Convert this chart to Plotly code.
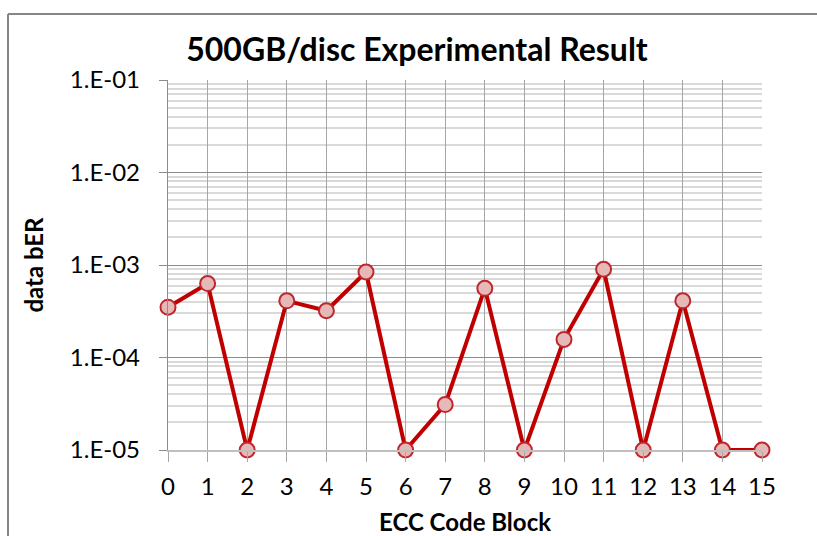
import plotly.graph_objects as go

blocks = list(range(16))
ber = [3.5e-4, 6.3e-4, 1e-5, 4.1e-4, 3.2e-4, 8.4e-4, 1e-5, 3.1e-5,
       5.6e-4, 1e-5, 1.57e-4, 9.0e-4, 1e-5, 4.1e-4, 1e-5, 1e-5]
ytick_vals = [1e-5, 1e-4, 1e-3, 1e-2, 1e-1]
ytick_text = ["1.E-05", "1.E-04", "1.E-03", "1.E-02", "1.E-01"]
minor_vals = [m * 10.0 ** e for e in range(-5, -1) for m in range(2, 10)]

FONT = "Lato"

fig = go.Figure()
fig.add_trace(go.Scatter(
    x=blocks, y=ber, mode="lines+markers",
    line=dict(color="#C00000", width=4),
    marker=dict(size=15, color="#E6B9B8", line=dict(color="#C0272D", width=2)),
    cliponaxis=False,
))

fig.update_layout(
    width=817, height=536,
    margin=dict(l=168, r=55, t=80, b=86),
    paper_bgcolor="white", plot_bgcolor="white",
    showlegend=False,
    font=dict(family=FONT, color="black"),
    title=dict(text="<b>500GB/disc Experimental Result</b>", x=(417 - 168) / 594, xanchor="center",
               xref="paper", y=1 - 50 / 536, yanchor="middle",
               font=dict(size=32, family=FONT)),
    xaxis=dict(
        range=[0, 15], tickmode="array", tickvals=blocks,
        ticktext=[str(b) for b in blocks],
        showgrid=True, gridcolor="#A6A6A6", gridwidth=1.3,
        showline=True, linecolor="#BFBFBF", linewidth=1.5,
        ticks="outside", ticklen=10, tickcolor="#A6A6A6", tickwidth=1.3,
        tickfont=dict(size=24, family=FONT),
        ticklabelstandoff=4,
        zeroline=False, automargin=False,
        title=dict(text="<b>ECC Code Block</b>", font=dict(size=24, family=FONT), standoff=18),
    ),
    yaxis=dict(
        type="log", range=[-5, -1], tickmode="array",
        tickvals=ytick_vals, ticktext=ytick_text,
        showgrid=True, gridcolor="#8C8C8C", gridwidth=1.3,
        showline=True, linecolor="#8C8C8C", linewidth=1.3,
        ticks="outside", ticklen=8, tickcolor="#8C8C8C", tickwidth=1.3,
        tickfont=dict(size=24, family=FONT),
        ticklabelstandoff=14,
        minor=dict(tickmode="array", tickvals=minor_vals, showgrid=True,
                   gridcolor="#D9D9D9", gridwidth=1.5, ticks=""),
        zeroline=False, automargin=False,
        title=dict(text="<b>data bER</b>", font=dict(size=24, family=FONT), standoff=19),
    ),
)

# chart-area border (left and top edges visible)
fig.add_shape(type="line", xref="paper", yref="paper",
              x0=(8 - 168) / 594, x1=(8 - 168) / 594, y0=(450 - 540) / 370, y1=(450 - 14) / 370,
              line=dict(color="#868686", width=2))
fig.add_shape(type="line", xref="paper", yref="paper",
              x0=(8 - 168) / 594, x1=(820 - 168) / 594, y0=(450 - 14) / 370, y1=(450 - 14) / 370,
              line=dict(color="#868686", width=2))

fig.write_html("out.html", config={"displayModeBar": False},
               post_script="document.body.style.margin='0px';")
